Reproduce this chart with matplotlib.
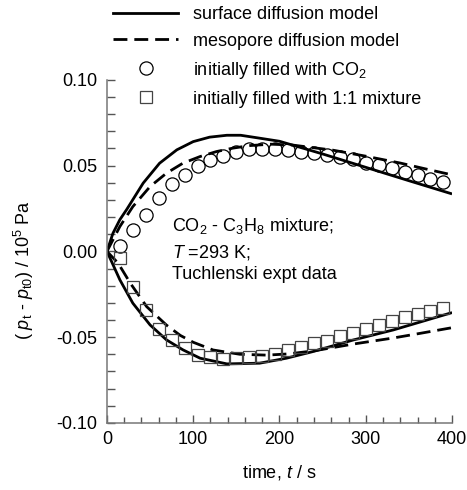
import numpy as np
import matplotlib
matplotlib.use("Agg")
import matplotlib.pyplot as plt
from matplotlib.lines import Line2D
from matplotlib.ticker import MultipleLocator

plt.rcParams["font.family"] = ["Liberation Sans", "DejaVu Sans"]
plt.rcParams["mathtext.fontset"] = "custom"
plt.rcParams["mathtext.rm"] = "Liberation Sans"
plt.rcParams["mathtext.it"] = "Liberation Sans:italic"

FS = 13

# experimental points (Tuchlenski)
t_expt = [15, 30, 45, 60, 75, 90, 105, 120, 135, 150, 165, 180, 195,
          210, 225, 240, 255, 270, 285, 300, 315, 330, 345, 360, 375, 390]
co2_filled = [0.003, 0.0125, 0.021, 0.031, 0.0395, 0.0446, 0.0495, 0.053,
              0.0557, 0.0578, 0.0595, 0.0595, 0.0598, 0.0592, 0.0582, 0.0572,
              0.0563, 0.0549, 0.0538, 0.0518, 0.0502, 0.0485, 0.0465, 0.0446,
              0.0421, 0.0407]
mix_filled = [-0.004, -0.0205, -0.034, -0.0453, -0.0516, -0.0565, -0.0604,
              -0.0617, -0.0629, -0.0623, -0.0617, -0.0613, -0.0598, -0.0578,
              -0.0559, -0.0535, -0.052, -0.0493, -0.0477, -0.0454, -0.0429,
              -0.0405, -0.0385, -0.0366, -0.0345, -0.0328]

# surface diffusion model
t_surf_up = [0, 7, 15, 23, 42, 61, 81, 100, 119, 139, 155, 177, 200, 250, 300, 350, 400]
surf_up = [0, 0.0106, 0.0185, 0.0245, 0.0398, 0.0514, 0.0592, 0.064, 0.0666,
           0.0677, 0.0677, 0.066, 0.0642, 0.0568, 0.049, 0.0412, 0.0335]
t_surf_lo = [0, 15, 30, 50, 69, 88, 108, 139, 177, 208, 239, 286, 332, 363, 400]
surf_lo = [0, -0.0166, -0.0302, -0.0429, -0.0516, -0.0574, -0.0623, -0.0656,
           -0.0652, -0.0623, -0.0584, -0.0516, -0.0458, -0.0412, -0.0357]

# mesopore diffusion model
t_meso_up = [0, 15, 30, 50, 69, 88, 108, 127, 146, 166, 190, 215, 262, 300, 340, 370, 400]
meso_up = [0, 0.0145, 0.0261, 0.0378, 0.0456, 0.0514, 0.0553, 0.0582, 0.0602,
           0.0617, 0.0625, 0.062, 0.059, 0.0555, 0.0515, 0.048, 0.0446]
t_meso_lo = [0, 13, 27, 46, 69, 85, 100, 123, 154, 185, 210, 240, 286, 332, 363, 400]
meso_lo = [0, -0.0069, -0.0185, -0.0322, -0.043, -0.049, -0.053, -0.0575,
           -0.06, -0.0605, -0.0598, -0.058, -0.054, -0.0505, -0.0478, -0.0445]

fig = plt.figure(figsize=(4.67, 4.90), dpi=100)
ax = fig.add_axes([0.229, 0.137, 0.739, 0.700])

lw = 2.0
dash = (5, 2.5)
ax.plot(t_surf_up, surf_up, color="black", lw=lw, solid_capstyle="butt")
ax.plot(t_surf_lo, surf_lo, color="black", lw=lw, solid_capstyle="butt")
ax.plot(t_meso_up, meso_up, color="black", lw=lw, dashes=dash)
ax.plot(t_meso_lo, meso_lo, color="black", lw=lw, dashes=dash)

ax.plot(t_expt, co2_filled, ls="none", marker="o", ms=9.5, mfc="none",
        mec="black", mew=0.9)
ax.plot(t_expt, mix_filled, ls="none", marker="s", ms=8.5, mfc="none",
        mec="#444444", mew=0.9)

ax.set_xlim(0, 400)
ax.set_ylim(-0.10, 0.10)
ax.xaxis.set_major_locator(MultipleLocator(100))
ax.xaxis.set_minor_locator(MultipleLocator(20))
ax.yaxis.set_major_locator(MultipleLocator(0.05))
ax.yaxis.set_minor_locator(MultipleLocator(0.01))
ax.yaxis.set_major_formatter(lambda v, p: f"{v:.2f}")

for side in ["top", "right"]:
    ax.spines[side].set_visible(False)
for side in ["left", "bottom"]:
    ax.spines[side].set_color("#777777")
    ax.spines[side].set_linewidth(1.1)

ax.tick_params(which="both", direction="in", color="#555555", width=1.0,
               labelsize=FS)
ax.tick_params(axis="x", which="major", length=6, pad=6)
ax.tick_params(axis="x", which="minor", length=4)
ax.tick_params(axis="y", which="major", length=6, pad=7)
ax.tick_params(axis="y", which="minor", length=6)

ax.set_xlabel(r"time, $t$ / s", fontsize=FS, labelpad=11)
ax.set_ylabel(r"( $p_{\rm t}$ - $p_{\rm t0}$) / 10$^5$ Pa", fontsize=FS)
ax.yaxis.set_label_coords(-0.205, 0.446)

ax.text(75, 0.0119, r"CO$_2$ - C$_3$H$_8$ mixture;", fontsize=FS, va="baseline")
ax.text(75, -0.0038, r"$T$ =293 K;", fontsize=FS, va="baseline")
ax.text(75, -0.016, "Tuchlenski expt data", fontsize=FS, va="baseline")

handles = [
    Line2D([], [], color="black", lw=lw),
    Line2D([], [], color="black", lw=lw, dashes=dash),
    Line2D([], [], ls="none", marker="o", ms=9.5, mfc="none", mec="black", mew=0.9),
    Line2D([], [], ls="none", marker="s", ms=8.5, mfc="none", mec="#444444", mew=0.9),
]
labels = ["surface diffusion model", "mesopore diffusion model",
          r"initially filled with CO$_2$", "initially filled with 1:1 mixture"]
fig.legend(handles, labels, loc="upper left", bbox_to_anchor=(0.242, 0.988),
           frameon=False, fontsize=FS, borderpad=0, borderaxespad=0,
           handlelength=3.6, handletextpad=0.83, labelspacing=0.55)

fig.savefig("out.png", dpi=100)
